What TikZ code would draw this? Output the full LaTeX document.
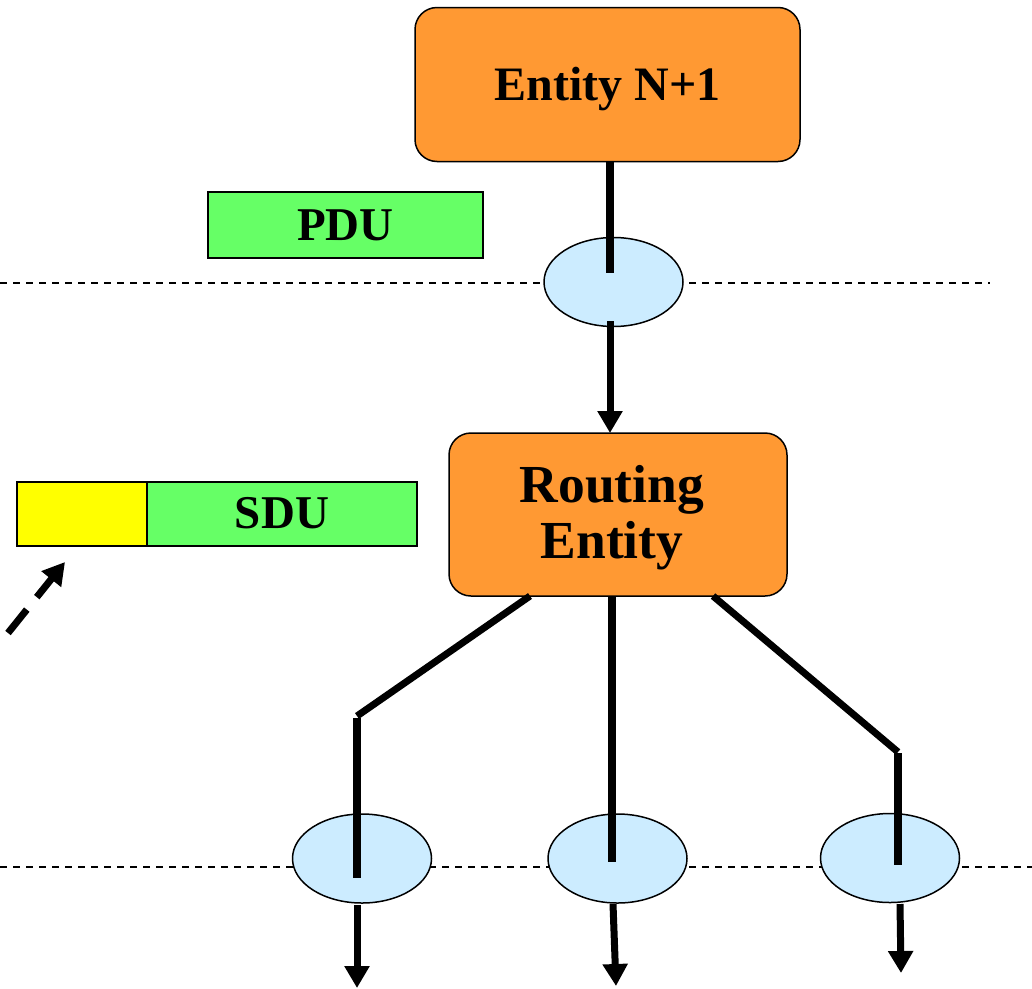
\documentclass[tikz,border=0pt]{standalone}
\usepackage{fontspec}
\setmainfont{Liberation Serif}
\usetikzlibrary{arrows.meta,shapes.geometric}
\definecolor{entorange}{HTML}{FF9933}
\definecolor{pdugreen}{HTML}{66FF66}
\definecolor{hdryellow}{HTML}{FFFF00}
\definecolor{sapblue}{HTML}{CCECFF}
\tikzset{
  entitybox/.style={draw=black, line width=1.5pt, fill=entorange, rounded corners=22pt,
    inner sep=0pt, outer sep=0pt, align=center, font=\bfseries},
  unitbox/.style={draw=black, line width=2pt, fill=pdugreen, inner sep=0pt, outer sep=0pt,
    font=\fontsize{47}{50}\selectfont\bfseries},
  sap/.style={draw=black, line width=1.5pt, fill=sapblue, ellipse, inner sep=0pt, outer sep=0pt,
    minimum width=139pt, minimum height=89pt},
  layerline/.style={line width=1.3pt, dash pattern=on 7pt off 6pt},
  wire/.style={line width=8.5pt},
  slant/.style={line width=7pt},
  flow/.style={line width=7pt, -{Triangle[length=22pt,width=24pt]}},
}
\begin{document}
\begin{tikzpicture}[x=1pt,y=-1pt]
\useasboundingbox (0,0) rectangle (1032,988);

% layer boundaries
\draw[layerline] (0,283) -- (990,283);
\draw[layerline] (0,867) -- (1032,867);

% entities (labels set on fixed baselines)
\node[entitybox, minimum width=385pt, minimum height=154pt,
      font=\fontsize{48}{50}\selectfont\bfseries] (top) at (607.5,84.5)
      {\raisebox{-15.5pt}[0pt][0pt]{Entity N+1}};
\node[entitybox, minimum width=338pt, minimum height=163pt,
      font=\fontsize{53.5}{56}\selectfont\bfseries] (route) at (618,514.5)
      {\hspace*{-12pt}\raisebox{-43.5pt}[0pt][0pt]{\vbox{\halign{\hfil#\hfil\cr Routing\cr Entity\cr}}}};

% service access points
\node[sap] (sapup) at (613.5,282) {};
\node[sap] (sapl) at (362,858.5) {};
\node[sap] (sapm) at (617.5,858.5) {};
\node[sap] (sapr) at (890,858) {};

% data units
\node[unitbox, minimum width=275pt, minimum height=66pt] (pdu) at (345.5,225) {PDU};
\node[unitbox, fill=hdryellow, minimum width=130pt, minimum height=64pt] (hdr) at (82,513.5) {};
\node[unitbox, minimum width=270pt, minimum height=64pt, anchor=west] (sdu) at (hdr.east) {SDU};

% connection points
\coordinate (upin) at (610,273);
\coordinate (upout) at (610,321);
\coordinate (lbend) at (357,716);
\coordinate (lbend2) at (357,718);
\coordinate (lin) at (357,878);
\coordinate (min) at (612,862);
\coordinate (rbend) at (898,752);
\coordinate (rbend2) at (898,753);
\coordinate (rin) at (898,865);
\coordinate (lout) at (357,905);
\coordinate (lend) at (357,988);
\coordinate (mout) at (613,904);
\coordinate (mend) at (616,986);
\coordinate (rout) at (900,904);
\coordinate (rend) at (901,973);
\coordinate (dstart) at (8,633);
\coordinate (dend) at (65,562);

% Entity N+1 down to the routing entity
\draw[wire] (top.south -| upin) -- (upin);
\draw[flow] (upout) -- (route.north -| upout);

% fan-out from the routing entity
\draw[slant] (route.south -| 530,0) -- (lbend);
\draw[wire] (lbend2) -- (lin);
\draw[wire] (route.south -| min) -- (min);
\draw[slant] (route.south -| 713,0) -- (rbend);
\draw[wire] (rbend2) -- (rin);

% outputs below the lower layer
\draw[flow] (lout) -- (lend);
\draw[flow] (mout) -- (mend);
\draw[flow] (rout) -- (rend);

% header being added
\draw[line width=7pt, dash pattern=on 30pt off 16pt, -{Triangle[length=22pt,width=24pt]}] (dstart) -- (dend);
\end{tikzpicture}
\end{document}
